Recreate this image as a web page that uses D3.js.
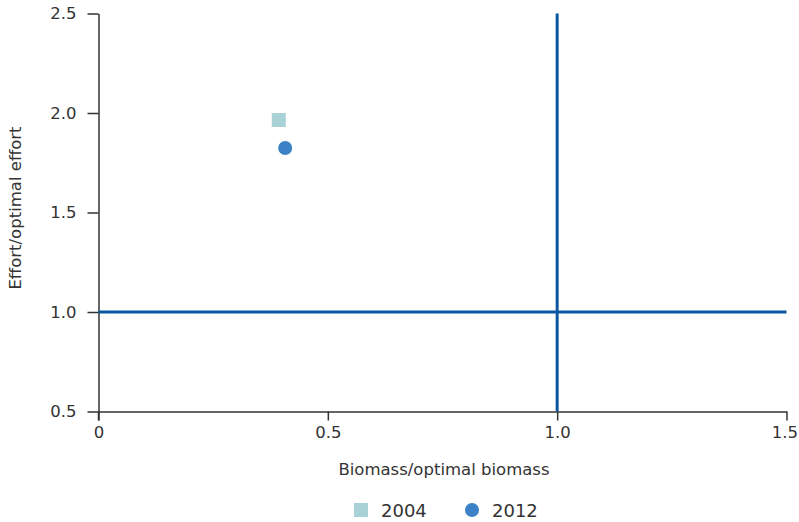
<!DOCTYPE html>
<html><head><meta charset="utf-8">
<script src="https://cdn.jsdelivr.net/npm/d3@7"></script>
<style>
body{margin:0;background:#fff;}
text{font-family:"DejaVu Sans",sans-serif;fill:#333;}
</style></head><body>
<svg id="c" width="799" height="522"></svg>
<script>
const series = ["2004","2012"];
const biomass = [0.393, 0.407];
const effort = [1.965, 1.824];
const xTicks = [0, 0.5, 1.0, 1.5];
const xTickLabels = ["0","0.5","1.0","1.5"];
const yTicks = [0.5, 1.0, 1.5, 2.0, 2.5];
const yTickLabels = ["0.5","1.0","1.5","2.0","2.5"];
const refX = 1.0, refY = 1.0;
const FONT = "'DejaVu Sans',sans-serif";

const svg = d3.select("#c");
const x = d3.scaleLinear().domain([0,1.5]).range([98.5,786.5]);
const y = d3.scaleLinear().domain([0.5,2.5]).range([411.5,13.5]);

const xa = svg.append("g").attr("transform","translate(0,411.5)")
  .call(d3.axisBottom(x).tickValues(xTicks).tickFormat((d,i)=>xTickLabels[i]).tickSize(9).tickPadding(6).tickSizeOuter(0));
const ya = svg.append("g").attr("transform","translate(98.5,0)")
  .call(d3.axisLeft(y).tickValues(yTicks).tickFormat((d,i)=>yTickLabels[i]).tickSize(11).tickPadding(11).tickSizeOuter(0));
[xa,ya].forEach(a=>{
  a.selectAll("path,line").attr("stroke","#333").attr("stroke-width",1.5);
  a.selectAll("text").attr("font-size",16.5).attr("fill","#333").attr("font-family",FONT);
});
// keep the last x tick label inside the frame
xa.selectAll(".tick").filter(d=>d===1.5).select("text").attr("text-anchor","end").attr("dx",11);
svg.append("line").attr("x1",98.5).attr("x2",98.5).attr("y1",411.5).attr("y2",420.5).attr("stroke","#333").attr("stroke-width",1.5);

svg.append("line").attr("x1",x(0)).attr("x2",x(1.5)).attr("y1",y(refY)).attr("y2",y(refY))
  .attr("stroke","#0b56a0").attr("stroke-width",3);
svg.append("line").attr("x1",x(refX)).attr("x2",x(refX)).attr("y1",y(2.5)).attr("y2",y(0.5))
  .attr("stroke","#0b56a0").attr("stroke-width",3);

const sq = 14;
svg.append("rect").attr("x",x(biomass[0])-sq/2).attr("y",y(effort[0])-sq/2).attr("width",sq).attr("height",sq).attr("fill","#a8d2d6");
svg.append("circle").attr("cx",x(biomass[1])).attr("cy",y(effort[1])).attr("r",7).attr("fill","#3c82c6");

svg.append("text").attr("x",444).attr("y",475).attr("text-anchor","middle").attr("font-size",16.5).text("Biomass/optimal biomass");
svg.append("text").attr("transform","translate(21,208) rotate(-90)").attr("text-anchor","middle").attr("font-size",16.5).text("Effort/optimal effort");

svg.append("rect").attr("x",354).attr("y",503).attr("width",14).attr("height",14).attr("fill","#a8d2d6");
svg.append("text").attr("x",381).attr("y",517).attr("font-size",18).text(series[0]);
svg.append("circle").attr("cx",472).attr("cy",510).attr("r",7).attr("fill","#3c82c6");
svg.append("text").attr("x",492).attr("y",517).attr("font-size",18).text(series[1]);
</script></body></html>
